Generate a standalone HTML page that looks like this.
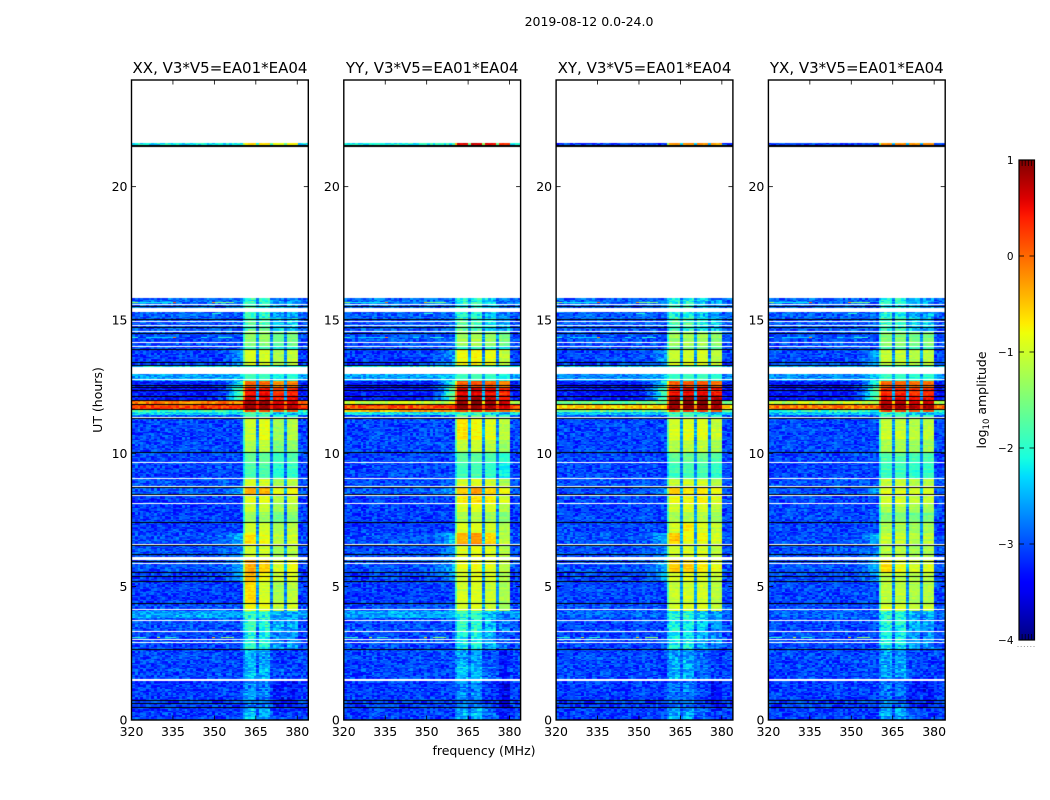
<!DOCTYPE html>
<html lang="en">
<head>
<meta charset="utf-8">
<title>2019-08-12 dynamic spectra</title>
<style>
html,body{margin:0;padding:0;background:#fff;}
#figure{position:relative;width:1050px;height:800px;overflow:hidden;background:#fff;font-family:"DejaVu Sans","Liberation Sans",sans-serif;}
canvas{position:absolute;display:block;}
#overlay{position:absolute;left:0;top:0;}
#overlay text{font-family:"DejaVu Sans","Liberation Sans",sans-serif;fill:#000;}
</style>
</head>
<body>
<div id="figure">
<svg id="overlay" width="1050" height="800" viewBox="0 0 1050 800">
  <defs><linearGradient id="jet-gradient" x1="0" y1="1" x2="0" y2="0"></linearGradient></defs>
  <text x="589" y="26" font-size="12.5" text-anchor="middle">2019-08-12 0.0-24.0</text>
  <text x="220" y="73" font-size="15" text-anchor="middle">XX, V3*V5=EA01*EA04</text>
  <text x="432.2" y="73" font-size="15" text-anchor="middle">YY, V3*V5=EA01*EA04</text>
  <text x="644.5" y="73" font-size="15" text-anchor="middle">XY, V3*V5=EA01*EA04</text>
  <text x="856.8" y="73" font-size="15" text-anchor="middle">YX, V3*V5=EA01*EA04</text>
  <text x="484" y="755" font-size="12.5" text-anchor="middle" textLength="103" lengthAdjust="spacing">frequency (MHz)</text>
  <text transform="translate(102,400) rotate(-90)" font-size="12.5" text-anchor="middle">UT (hours)</text>
  <text transform="translate(986,400) rotate(-90)" font-size="12.5" text-anchor="middle">log<tspan font-size="8.5" dy="3">10</tspan><tspan dy="-3"> amplitude</tspan></text>
</svg>
</div>
<script>
// ---- Axis data ----
const panelNames = ['XX', 'YY', 'XY', 'YX'];
const xTickValues = [320, 335, 350, 365, 380];
const yTickValues = [0, 5, 10, 15, 20];
const colorbarTicks = [1, 0, -1, -2, -3, -4];
const colorbarTickLabels = ['1', '0', '\u22121', '\u22122', '\u22123', '\u22124'];

// ---- Time bands in hours; levels below are log10 amplitude per band ----
const bandEdges = [0,0.5,1.5,2,2.65,3.3,3.82,4.08,4.4,5.2,5.55,6,6.6,7,7.4,7.8,8.14,8.45,8.75,9.06,9.66,10.06,10.5,11.3,11.42,11.56,11.66,11.81,11.96,12.2,12.5,12.71,12.97,13.33,13.9,14.02,14.6,15.06,15.46,15.81,21.55,21.63,24];

const offXX = [-3.1,-3.1,-3.05,-3.05,-3.05,-3.0,-2.55,-3.0,-3.1,-3.1,-3.0,-3.0,-3.0,-3.1,-3.1,-3.1,-3.1,-2.95,-3.0,-3.05,-3.05,-3.05,-3.05,-3.0,-2.3,-1.9,0.25,-0.1,-3.3,-3.3,-3.3,-2.6,-2.25,-3.1,-3.0,-3.0,-2.95,-2.95,-2.85,null,-2.2,null];
const offYY = [-3.1,-3.1,-3.05,-3.05,-3.05,-3.0,-2.55,-3.0,-3.1,-3.1,-3.0,-3.0,-3.0,-3.1,-3.1,-3.1,-3.1,-2.95,-3.0,-3.05,-3.05,-3.05,-3.05,-3.0,-2.2,-0.4,0.15,-1.1,-3.3,-3.3,-3.3,-2.6,-2.2,-3.1,-3.0,-3.0,-2.95,-2.95,-2.85,null,-2.1,null];
const offXY = [-3.1,-3.1,-3.05,-3.05,-3.05,-3.05,-2.9,-3.0,-3.05,-3.05,-3.0,-3.0,-3.0,-3.05,-3.05,-3.05,-3.05,-3.0,-3.0,-3.05,-3.05,-3.05,-3.05,-3.0,-2.4,-1.6,-0.6,-1.6,-3.3,-3.3,-3.3,-2.7,-2.5,-3.05,-3.0,-3.0,-2.95,-2.95,-2.9,null,-3.1,null];
const offYX = [-3.1,-3.1,-3.05,-3.05,-3.05,-3.05,-2.9,-3.0,-3.05,-3.05,-3.0,-3.0,-3.0,-3.05,-3.05,-3.05,-3.05,-3.0,-3.0,-3.05,-3.05,-3.05,-3.05,-3.0,-2.4,-1.9,-0.1,-1.1,-3.3,-3.3,-3.3,-2.7,-2.5,-3.05,-3.0,-3.0,-2.95,-2.95,-2.9,null,-3.1,null];

const onXX = [-2.75,-2.95,-2.7,-2.8,-2.3,-2.2,-2.2,-0.9,-1.1,-0.95,-0.75,-1.1,-0.95,-1.15,-1.45,-1.15,-0.95,-0.7,-1.05,-1.9,-1.8,-1.35,-1.1,-1.9,-2.1,0.2,0.8,0.8,0.45,0.3,-0.1,-2.0,-1.9,-1.05,-2.0,-1.45,-2.05,-2.25,-2.25,null,-0.7,null];
const onYY = [-2.75,-2.95,-2.7,-2.8,-2.35,-2.25,-2.2,-1.0,-1.05,-1.0,-0.9,-0.95,-0.6,-1.05,-1.3,-1.0,-0.75,-0.6,-1.0,-1.95,-1.85,-1.15,-0.9,-1.7,-2.1,0.3,0.9,0.9,0.7,0.5,0.0,-1.95,-1.85,-0.85,-2.0,-1.35,-2.05,-2.25,-2.25,null,0.55,null];
const onXY = [-2.75,-2.95,-2.7,-2.8,-2.35,-2.2,-2.2,-0.95,-1.1,-1.0,-0.75,-1.0,-0.85,-1.05,-1.25,-1.0,-0.8,-0.7,-1.05,-1.85,-1.75,-1.2,-0.95,-1.8,-2.1,0.3,0.9,0.9,0.8,0.45,0.0,-1.95,-1.9,-1.0,-1.7,-1.3,-2.05,-2.25,-2.25,null,-0.3,null];
const onYX = [-2.75,-2.95,-2.7,-2.8,-2.35,-2.2,-2.2,-1.0,-1.15,-1.1,-0.9,-1.15,-1.05,-1.2,-1.5,-1.2,-1.0,-0.85,-1.05,-1.85,-1.8,-1.25,-1.05,-1.8,-2.1,0.25,0.85,0.85,0.55,0.35,-0.05,-1.95,-1.9,-1.05,-1.8,-1.4,-2.05,-2.25,-2.25,null,-0.2,null];

const skirtLevels = [null,null,null,null,null,null,null,null,null,-2.6,-2.5,-2.7,-2.4,null,null,null,null,-2.6,null,null,null,null,null,null,null,null,null,null,-1.4,-1.5,-1.9,-2.4,null,-2.6,null,null,null,null,null,null,null,null];

const subbandTiltXX = [0.1,0.1,-0.15,-0.05];
const subbandTiltYY = [0.05,0.1,0,-0.2];
const subbandTiltXY = [0,0.05,0.05,-0.1];
const subbandTiltYX = [0,0,-0.1,-0.05];
const faintSubbandTilt = [0.18,0.12,-0.2,-0.3];

// ---- Localised hot patches: panel, time band, sub-band, added log10 amplitude ----
const hotPanel = [0,0,0,0,0,0,0,0,0,1,1,1,1,1,2,2,2,2,2,3];
const hotBand =  [8,9,10,10,17,17,12,22,21,12,12,12,22,17,12,10,10,13,17,10];
const hotSub =   [0,0,0,1,0,1,0,1,1,0,1,3,0,1,0,0,1,1,0,0];
const hotAdd =   [0.35,0.35,0.35,0.15,0.25,0.25,0.2,0.15,0.15,0.15,0.25,-0.3,0.2,0.25,0.35,0.25,0.2,0.2,0.2,0.25];

// ---- Per-channel shape (1 MHz channels from 320 MHz) ----
const channelWeight = [0,0,0,0,0,0,0,0,0,0,0,0,0,0,0,0,0,0,0,0,0,0,0,0,0,0,0,0,0,0,0,0,0,0,0,0,0,0,0,0,0.6,1,1,1,1,0.2,1,1,1,1,0.2,1,1,1,1,0.2,1,1,1,1,0,0,0,0];
const channelSubband = [0,0,0,0,0,0,0,0,0,0,0,0,0,0,0,0,0,0,0,0,0,0,0,0,0,0,0,0,0,0,0,0,0,0,0,0,0,0,0,0,0,0,0,0,0,0,1,1,1,1,1,2,2,2,2,2,3,3,3,3,3,3,3,3];
const skirtWeight = [0,0,0,0,0,0,0,0,0,0,0,0,0,0,0,0,0,0,0,0,0,0,0,0,0,0,0,0,0,0,0,0.05,0.1,0.15,0.25,0.35,0.5,0.65,0.8,0.9,1,0,0,0,0,0,0,0,0,0,0,0,0,0,0,0,0,0,0,0,0,0,0,0];
// Hand-typed grain offsets, approximating the receiver noise texture.
const speckle = [0.12,-0.21,0.05,0.31,-0.08,-0.28,0.18,0.02,-0.14,0.26,-0.33,0.09,0.21,-0.05,-0.19,0.34,-0.11,0.07,-0.25,0.16,0.28,-0.02,-0.3,0.11,0.04,-0.17,0.24,-0.09,0.36,-0.23,0.01,0.14,-0.27,0.19,-0.06,0.08,-0.35,0.22,0.03,-0.12,0.29,-0.2,0.1,-0.04,0.17,-0.31,0.25,-0.15,0.06,0.32,-0.24,-0.01,0.13];

// ---- Flagged rows (hours) ----
const whiteLineHours = [2.91,3.02,3.32,3.75,4.15,4.38,5.89,6.59,8.14,8.44,9.06,9.66,11.38,12.8,13.93,14.02,14.16,14.59,14.83,14.98,15.6];
const blackLineHours = [0.475,0.65,0.76,2.65,4.4,5.2,5.41,5.56,5.96,6.21,6.55,7.42,8.47,8.73,10.06,11.32,11.66,11.84,12.0,12.16,12.37,12.5,12.55,13.33,13.41,13.9,14.5,14.75,15.05,15.53,21.55,21.52];
const whiteBlockStart = [1.48,6.0,8.69,8.75,12.97,15.3];
const whiteBlockEnd = [1.54,6.12,8.72,8.79,13.22,15.46];

// ---- Narrow-band interference segments ----
const rfiHours = [3.13,3.13,3.13,3.13,3.13,14.35,14.35,14.35,14.35,14.35,15.67,15.67,15.67,15.67,15.67,15.25];
const rfiStartMHz = [320,329,332,349,352,320,325,335,345,351,320,322,335,349,350,349];
const rfiEndMHz = [325,330,336,350,357,322,335,336,347,356,322,335,336,350,357,352];
const rfiLevel = [-2,-1,-2,-0.5,-1.4,-2,-2.3,-0.2,-2.2,-2,-1.3,-2.2,0,-0.3,-1.5,-2];

// ---- Colormap control points ----
const jetRedPos = [0,0.35,0.66,0.89,1];
const jetRedVal = [0,0,1,1,0.5];
const jetGreenPos = [0,0.125,0.375,0.64,0.91,1];
const jetGreenVal = [0,0,1,1,0,0];
const jetBluePos = [0,0.11,0.34,0.65,1];
const jetBlueVal = [0.5,1,1,0,0];

// ---- Scales ----
const panelLefts = [131.5, 343.8, 556.1, 768.4];
const axisWidth = 176.8, axisTop = 80, axisBottom = 720;
const freqMin = 320, freqMax = 384, hourMax = 24, rowStep = 0.05;
const cbarLeft = 1019, cbarRight = 1034.5, cbarTop = 160, cbarBottom = 640, cbarMin = -4, cbarMax = 1;
function xScale(freq, left) { return left + (freq - freqMin) / (freqMax - freqMin) * axisWidth; }
function yScale(hour) { return axisBottom - hour / hourMax * (axisBottom - axisTop); }
function cbarScale(v) { return cbarBottom - (v - cbarMin) / (cbarMax - cbarMin) * (cbarBottom - cbarTop); }

function lerp(pos, val, t) {
  for (let i = 1; i < pos.length; i++) {
    if (t <= pos[i]) return val[i - 1] + (val[i] - val[i - 1]) * (t - pos[i - 1]) / (pos[i] - pos[i - 1]);
  }
  return val[val.length - 1];
}
function jet(level) {
  const t = Math.max(0, Math.min(1, (level - cbarMin) / (cbarMax - cbarMin)));
  const r = Math.round(255 * lerp(jetRedPos, jetRedVal, t));
  const g = Math.round(255 * lerp(jetGreenPos, jetGreenVal, t));
  const b = Math.round(255 * lerp(jetBluePos, jetBlueVal, t));
  return 'rgb(' + r + ',' + g + ',' + b + ')';
}

const figure = document.getElementById('figure');
const overlay = document.getElementById('overlay');
const SVGNS = 'http://www.w3.org/2000/svg';
function svgEl(tag, attrs, parent) {
  const el = document.createElementNS(SVGNS, tag);
  for (const key in attrs) el.setAttribute(key, attrs[key]);
  parent.appendChild(el);
  return el;
}

const offByPanel = [offXX, offYY, offXY, offYX];
const onByPanel = [onXX, onYY, onXY, onYX];
const tiltByPanel = [subbandTiltXX, subbandTiltYY, subbandTiltXY, subbandTiltYX];

function hotAmount(panelIndex, b, sub) {
  let sum = 0;
  for (let i = 0; i < hotPanel.length; i++) {
    if (hotPanel[i] === panelIndex && hotBand[i] === b && hotSub[i] === sub) sum += hotAdd[i];
  }
  return sum;
}

function drawHeatmap(panelIndex) {
  const left = Math.round(panelLefts[panelIndex]);
  const canvas = document.createElement('canvas');
  
  
  canvas.width = 177;
  canvas.height = 640;
  canvas.style.left = left + 'px';
  canvas.style.top = axisTop + 'px';
  figure.insertBefore(canvas, overlay);
  const ctx = canvas.getContext('2d');
  const off = offByPanel[panelIndex], on = onByPanel[panelIndex], tilt = tiltByPanel[panelIndex];
  const cx = function (freq) { return Math.round((freq - freqMin) / (freqMax - freqMin) * canvas.width); };
  const cy = function (hour) { return yScale(hour) - axisTop; };
  let row = 0;
  for (let b = 0; b < bandEdges.length - 1; b++) {
    if (off[b] === null) continue;
    const faint = on[b] < -2;
    for (let h = bandEdges[b]; h < bandEdges[b + 1] - 1e-6; h += rowStep) {
      const hEnd = Math.min(h + rowStep, bandEdges[b + 1]);
      const y0 = Math.round(cy(hEnd)), y1 = Math.max(Math.round(cy(h)), y0 + 1);
      const rowGrain = speckle[(row * 23 + panelIndex * 7) % speckle.length];
      for (let c = 0; c < channelWeight.length; c++) {
        let base = off[b];
        if (skirtLevels[b] !== null && skirtWeight[c] > 0) base += (skirtLevels[b] - off[b]) * skirtWeight[c];
        const w = channelWeight[c];
        const sub = channelSubband[c];
        const target = on[b] + tilt[sub] + hotAmount(panelIndex, b, sub) + (faint ? faintSubbandTilt[sub] : 0);
        let level = base + (target - base) * w;
        const idx = (row * row * 3 + row * 41 + c * c * 7 + c * 19 + row * c * 11 + panelIndex * 23) % speckle.length;
        const n = speckle[idx];
        const grainScale = faint ? 1.05 : (1 - 0.65 * w);
        level += n * grainScale + rowGrain * 0.35 * w;
        ctx.fillStyle = jet(level);
        ctx.fillRect(cx(freqMin + c), y0, cx(freqMin + c + 1) - cx(freqMin + c), y1 - y0);
      }
      row++;
    }
  }
  for (let i = 0; i < rfiHours.length; i++) {
    ctx.fillStyle = jet(rfiLevel[i]);
    ctx.fillRect(cx(rfiStartMHz[i]), Math.round(cy(rfiHours[i])), cx(rfiEndMHz[i]) - cx(rfiStartMHz[i]), 1);
  }
  ctx.fillStyle = '#ffffff';
  for (let i = 0; i < whiteBlockStart.length; i++) {
    const top = Math.round(cy(whiteBlockEnd[i]));
    ctx.fillRect(0, top, canvas.width, Math.max(1, Math.round(cy(whiteBlockStart[i])) - top));
  }
  for (let i = 0; i < whiteLineHours.length; i++) {
    ctx.fillRect(0, Math.round(cy(whiteLineHours[i])), canvas.width, 1);
  }
  ctx.fillStyle = '#000000';
  for (let i = 0; i < blackLineHours.length; i++) {
    ctx.fillRect(0, Math.round(cy(blackLineHours[i])), canvas.width, 1);
  }
}

function drawAxes(panelIndex) {
  const left = panelLefts[panelIndex], right = left + axisWidth;
  const g = svgEl('g', {}, overlay);
  
  
  xTickValues.forEach(function (v) {
    const x = xScale(v, left);
    const bottomTick = svgEl('line', {x1: x, x2: x, y1: axisBottom, y2: axisBottom - 4.5, stroke: '#000', 'stroke-width': 0.8}, g);
    
    
    const topTick = svgEl('line', {x1: x, x2: x, y1: axisTop, y2: axisTop + 4.5, stroke: '#000', 'stroke-width': 0.8}, g);
    
    
    const label = svgEl('text', {x: x, y: 736, 'font-size': 12.5, 'text-anchor': 'middle'}, g);
    
    
    label.textContent = String(v);
  });
  yTickValues.forEach(function (v) {
    const y = yScale(v);
    const leftTick = svgEl('line', {x1: left, x2: left + 4.5, y1: y, y2: y, stroke: '#000', 'stroke-width': 0.8}, g);
    
    
    const rightTick = svgEl('line', {x1: right, x2: right - 4.5, y1: y, y2: y, stroke: '#000', 'stroke-width': 0.8}, g);
    
    
    const label = svgEl('text', {x: left - 4, y: y + 4.5, 'font-size': 12.5, 'text-anchor': 'end'}, g);
    
    
    label.textContent = String(v);
  });
  const frame = svgEl('rect', {x: left, y: axisTop, width: axisWidth, height: axisBottom - axisTop, fill: 'none', stroke: '#000', 'stroke-width': 1.4}, g);
  
  
}

function drawColorbar() {
  const grad = document.getElementById('jet-gradient');
  for (let i = 0; i <= 50; i++) {
    svgEl('stop', {offset: (i / 50), 'stop-color': jet(cbarMin + (cbarMax - cbarMin) * i / 50)}, grad);
  }
  const g = svgEl('g', {}, overlay);
  
  
  const bar = svgEl('rect', {x: cbarLeft, y: cbarTop, width: cbarRight - cbarLeft, height: cbarBottom - cbarTop, fill: 'url(#jet-gradient)', stroke: '#000', 'stroke-width': 1.2}, g);
  
  
  colorbarTicks.forEach(function (v, i) {
    const y = cbarScale(v);
    const tickL = svgEl('line', {x1: cbarLeft, x2: cbarLeft + 5, y1: y, y2: y, stroke: '#000', 'stroke-width': 0.8}, g);
    
    
    const tickR = svgEl('line', {x1: cbarRight - 5, x2: cbarRight, y1: y, y2: y, stroke: '#000', 'stroke-width': 0.8}, g);
    
    
    const label = svgEl('text', {x: 1013.5, y: y + 4, 'font-size': 10.5, 'text-anchor': 'end'}, g);
    
    
    label.textContent = colorbarTickLabels[i];
  });
  [0.2, 0.4, 0.6, 0.8].forEach(function (frac) {
    const x = cbarLeft + (cbarRight - cbarLeft) * frac;
    const top = svgEl('line', {x1: x, x2: x, y1: cbarTop, y2: cbarTop + 6, stroke: '#000', 'stroke-width': 0.7}, g);
    
    
    const bottom = svgEl('line', {x1: x, x2: x, y1: cbarBottom, y2: cbarBottom - 6, stroke: '#000', 'stroke-width': 0.7}, g);
    
    
  });
  const dots = svgEl('line', {x1: 1017.5, x2: 1035, y1: 646.5, y2: 646.5, stroke: '#999', 'stroke-width': 1, 'stroke-dasharray': '1 2.2'}, g);
  
  
}

panelNames.forEach(function (name, i) {
  drawHeatmap(i);
  drawAxes(i);
});
drawColorbar();
</script>
</body>
</html>
